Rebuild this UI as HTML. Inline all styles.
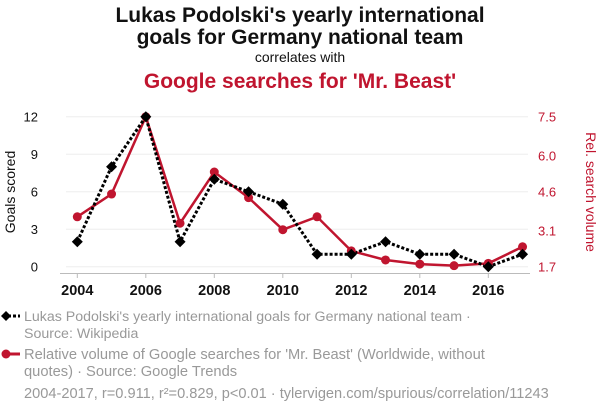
<!DOCTYPE html>
<html><head><meta charset="utf-8"><style>
body{margin:0;background:#fff;font-family:"Liberation Sans",sans-serif;}
svg text{font-family:"Liberation Sans",sans-serif;}
</style></head><body>
<svg width="600" height="414" id="c">
<text x="300" y="22" text-anchor="middle" font-size="21" font-weight="bold" fill="#111">Lukas Podolski's yearly international</text>
<text x="300" y="44" text-anchor="middle" font-size="21" font-weight="bold" fill="#111">goals for Germany national team</text>
<text x="300" y="62" text-anchor="middle" font-size="14" fill="#111">correlates with</text>
<text x="300" y="88" text-anchor="middle" font-size="21" font-weight="bold" fill="#c0152f">Google searches for 'Mr. Beast'</text>
<text transform="translate(15,192) rotate(-90)" text-anchor="middle" font-size="14" fill="#111">Goals scored</text>
<text transform="translate(586,192) rotate(90)" text-anchor="middle" font-size="14" fill="#c0152f">Rel. search volume</text>
<g id="grid"></g><g id="axes"></g><g id="marks"></g>
<g>
<line x1="3" y1="316" x2="20" y2="316" stroke="#000" stroke-width="3" stroke-dasharray="3,2"/>
<path d="M6,311 L11,316 L6,321 L1,316Z" fill="#000"/>
<text x="24" y="321" font-size="14.2" fill="#999">Lukas Podolski's yearly international goals for Germany national team ·</text>
<text x="24" y="338" font-size="14.2" fill="#999">Source: Wikipedia</text>
</g>
<g>
<line x1="3" y1="354" x2="20" y2="354" stroke="#c0152f" stroke-width="3"/>
<circle cx="6" cy="354" r="4.5" fill="#c0152f"/>
<text x="24" y="359" font-size="14.7" fill="#999">Relative volume of Google searches for 'Mr. Beast' (Worldwide, without</text>
<text x="24" y="376" font-size="14.7" fill="#999">quotes) · Source: Google Trends</text>
</g>
<text x="24" y="398" font-size="14.6" fill="#999">2004-2017, r=0.911, r²=0.829, p&lt;0.01 · tylervigen.com/spurious/correlation/11243</text>
</svg>
<script>
const years=[2004,2005,2006,2007,2008,2009,2010,2011,2012,2013,2014,2015,2016,2017];
const goals=[2,8,12,2,7,6,5,1,1,2,1,1,0,1];
const searches=[3.63,4.51,7.5,3.38,5.36,4.37,3.13,3.63,2.31,1.96,1.80,1.74,1.83,2.47];
const leftTicks=[0,3,6,9,12];
const rightTicks=[1.7,3.1,4.6,6.0,7.5];
const xTicks=[2004,2006,2008,2010,2012,2014,2016];
const NS="http://www.w3.org/2000/svg";
const x=v=>77.3+(v-2004)*34.25;
const yL=v=>266.7-v*12.5;
const yR=v=>266.7-(v-1.7)*(150/5.8);
function mk(t,a,p){const e=document.createElementNS(NS,t);for(const k in a)e.setAttribute(k,a[k]);document.getElementById(p).appendChild(e);return e;}
leftTicks.forEach(t=>{
const g=mk('line',{x1:66,x2:528,y1:yL(t),y2:yL(t),stroke:'#eee','stroke-width':1},'grid');


const l=mk('text',{x:38,y:yL(t)+5,'text-anchor':'end','font-size':13,fill:'#111'},'axes');l.textContent=t;


});
rightTicks.forEach(t=>{
const l=mk('text',{x:538,y:yR(t)+5,'font-size':13,fill:'#c0152f'},'axes');l.textContent=t.toFixed(1);


});
const ax=mk('line',{x1:60,x2:530,y1:273.5,y2:273.5,stroke:'#bbb','stroke-width':1},'axes');


xTicks.forEach(t=>{
mk('line',{x1:x(t),x2:x(t),y1:273.5,y2:278,stroke:'#bbb'},'axes');
const l=mk('text',{x:x(t),y:295,'text-anchor':'middle','font-size':14.5,'font-weight':'bold',fill:'#111'},'axes');l.textContent=t;


});
const rl=mk('polyline',{points:years.map((y,i)=>x(y)+','+yR(searches[i])).join(' '),fill:'none',stroke:'#c0152f','stroke-width':2.5},'marks');


const bl=mk('polyline',{points:years.map((y,i)=>x(y)+','+yL(goals[i])).join(' '),fill:'none',stroke:'#000','stroke-width':3,'stroke-dasharray':'3,2'},'marks');


years.forEach((y,i)=>{
const c=mk('circle',{cx:x(y),cy:yR(searches[i]),r:4.5,fill:'#c0152f'},'marks');


const cx=x(y),cy=yL(goals[i]);
const d=mk('path',{d:`M${cx},${cy-5.5}L${cx+5.5},${cy}L${cx},${cy+5.5}L${cx-5.5},${cy}Z`,fill:'#000'},'marks');


});
</script>
</body></html>
